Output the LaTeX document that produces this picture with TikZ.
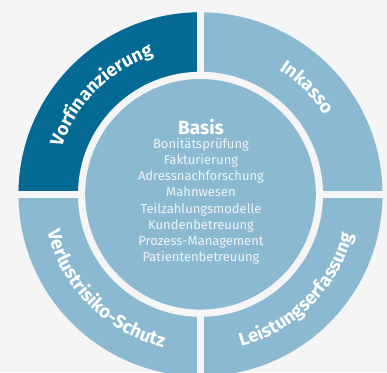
\documentclass[tikz,border=0pt]{standalone}
\usepackage{fontspec}
\setmainfont{Fira Sans}
\usetikzlibrary{decorations.text}
\definecolor{bg}{HTML}{F5F5F5}
\definecolor{darkblue}{HTML}{046A93}
\definecolor{lightblue}{HTML}{8CB9D2}
\definecolor{txt}{HTML}{EEF4F8}
\tikzset{
  ringlabel/.style={decorate, decoration={text along path, text align=center, text color=white,
      text={|\fontsize{18.5}{18.5}\selectfont\bfseries|#1}}},
}
\begin{document}
\begin{tikzpicture}[x=1pt,y=1pt]
\useasboundingbox (0,0) rectangle (387,372);
\fill[bg] (0,0) rectangle (387,372);
\begin{scope}
\clip (0,0) rectangle (387,372);
\begin{scope}[shift={(200.5,177.7)}]
  \fill[lightblue] (0,0) circle (182);
  \fill[darkblue] (0,0) -- (180:182) arc (180:90:182) -- cycle;
  \fill[bg] (-3.4,-200) rectangle (3.4,200);
  \fill[bg] (-200,-3.6) rectangle (200,3.6);
  \fill[bg] (0,0) circle (122.5);
  \fill[lightblue] (0,0) circle (115.3);
  \path[ringlabel=Vorfinanzierung] (178:146.5) arc (178:92:146.5);
  \path[ringlabel=Inkasso] (88:147) arc (88:2:147);
  \path[ringlabel=Leistungserfassung] (-88:157.5) arc (-88:-2:157.5);
  \path[ringlabel=Verlustrisiko-Schutz] (182:157.5) arc (182:268:157.5);
  \node[text=white, font=\fontsize{19}{19}\selectfont\bfseries] (basis) at (0.5,67.6) {Basis};
  \node[text=txt, font=\fontsize{13}{16.1}\selectfont, align=center] (list) at (0.5,-7) {Bonitätsprüfung\\Fakturierung\\Adressnachforschung\\Mahnwesen\\Teilzahlungsmodelle\\Kundenbetreuung\\Prozess-Management\\Patientenbetreuung};
\end{scope}
\end{scope}
\end{tikzpicture}
\end{document}
